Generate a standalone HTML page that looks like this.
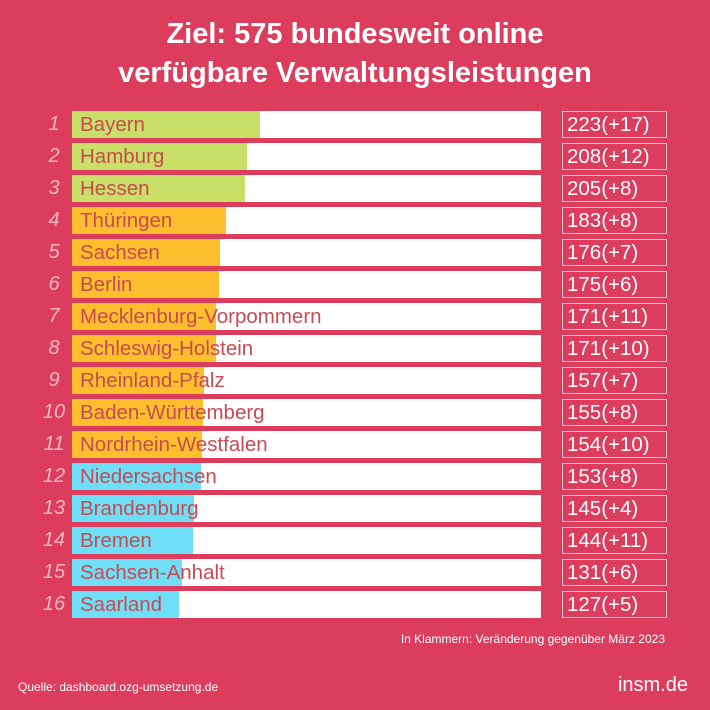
<!DOCTYPE html>
<html><head><meta charset="utf-8"><style>
body{margin:0;width:710px;height:710px;background:#dc3d5c;font-family:"Liberation Sans",sans-serif;position:relative;overflow:hidden}
.t{position:absolute;left:0;width:710px;text-align:center;color:#fff;font-weight:bold;font-size:29px}
.abs{position:absolute}
</style></head><body>
<div class="t" style="top:15px;line-height:39px">Ziel: 575 bundesweit online<br>verfügbare Verwaltungsleistungen</div>
<div id="chart"></div>
<div class="abs" style="right:45px;top:632px;color:#fff;font-size:12px">In Klammern: Veränderung gegenüber März 2023</div>
<div class="abs" style="left:18px;top:680px;color:#fff;font-size:12px">Quelle: dashboard.ozg-umsetzung.de</div>
<div class="abs" style="right:22px;top:674px;color:#fff;font-size:20px">insm.de</div>
<script>
const states=["Bayern","Hamburg","Hessen","Thüringen","Sachsen","Berlin","Mecklenburg-Vorpommern","Schleswig-Holstein","Rheinland-Pfalz","Baden-Württemberg","Nordrhein-Westfalen","Niedersachsen","Brandenburg","Bremen","Sachsen-Anhalt","Saarland"];
const values=[223,208,205,183,176,175,171,171,157,155,154,153,145,144,131,127];
const changes=[17,12,8,8,7,6,11,10,7,8,10,8,4,11,6,5];
const groups=[0,0,0,1,1,1,1,1,1,1,1,2,2,2,2,2];
const colors=["#c8df68","#fdbf2d","#6edff6"];
const x=v=>v*0.842;
const y=i=>111+i*32;
const c=document.getElementById('chart');
states.forEach((s,i)=>{
 const r=document.createElement('div');r.className='abs';
 
 
 r.style.cssText=`left:72px;top:${y(i)}px;width:469px;height:27px;background:#fff`;
 const f=document.createElement('div');f.className='abs';
 
 
 f.style.cssText=`left:0;top:0;height:27px;width:${x(values[i])}px;background:${colors[groups[i]]}`;
 r.appendChild(f);
 const l=document.createElement('div');l.className='abs';
 
 
 l.style.cssText='left:8px;top:2px;font-size:20.5px;color:#c94a52;white-space:nowrap';
 l.textContent=s;r.appendChild(l);
 c.appendChild(r);
 const n=document.createElement('div');n.className='abs';
 
 
 n.style.cssText=`left:40px;width:28px;text-align:center;top:${y(i)+2}px;font-size:20px;font-style:italic;color:#f4b5c0`;
 n.textContent=i+1;c.appendChild(n);
 const b=document.createElement('div');b.className='abs';
 
 
 b.style.cssText=`left:562px;top:${y(i)}px;width:99px;height:25px;border:1.5px solid #f6c3cc;color:#fff;font-size:20.5px;padding-left:4px;line-height:26px;box-sizing:content-box;white-space:nowrap`;
 b.textContent=values[i]+'(+'+changes[i]+')';c.appendChild(b);
});
</script>
</body></html>
